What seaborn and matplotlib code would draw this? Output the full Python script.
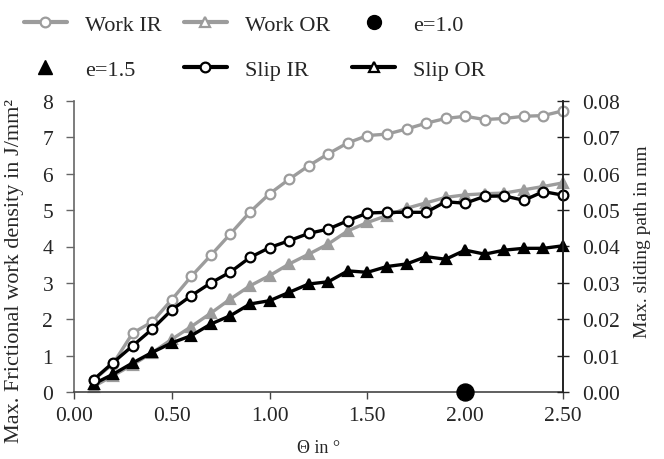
import matplotlib
matplotlib.use("Agg")
import matplotlib.pyplot as plt
import seaborn as sns
import pandas as pd
from matplotlib.lines import Line2D

# Tilt angle steps (degrees)
theta = [0.1, 0.2, 0.3, 0.4, 0.5, 0.6, 0.7, 0.8, 0.9, 1.0,
         1.1, 1.2, 1.3, 1.4, 1.5, 1.6, 1.7, 1.8, 1.9, 2.0,
         2.1, 2.2, 2.3, 2.4, 2.5]

# Max. frictional work density in J/mm²
work_ir = [0.33, 0.78, 1.62, 1.93, 2.54, 3.18, 3.76, 4.35, 4.95, 5.45,
           5.85, 6.22, 6.55, 6.85, 7.05, 7.09, 7.23, 7.39, 7.52, 7.58,
           7.49, 7.52, 7.58, 7.60, 7.73]
work_or = [0.15, 0.45, 0.75, 1.08, 1.45, 1.80, 2.17, 2.56, 2.92, 3.20,
           3.52, 3.79, 4.07, 4.43, 4.66, 4.85, 5.05, 5.20, 5.35, 5.42,
           5.45, 5.47, 5.56, 5.65, 5.75]

# Max. sliding path in mm
slip_ir = [0.0034, 0.0081, 0.0127, 0.0173, 0.0226, 0.0265, 0.0300, 0.0330, 0.0370, 0.0397,
           0.0416, 0.0436, 0.0448, 0.0471, 0.0492, 0.0494, 0.0494, 0.0494, 0.0523, 0.0519,
           0.0538, 0.0539, 0.0527, 0.0551, 0.0541]
slip_or = [0.0022, 0.0049, 0.0080, 0.0109, 0.0135, 0.0155, 0.0187, 0.0210, 0.0242, 0.0251,
           0.0274, 0.0297, 0.0303, 0.0333, 0.0329, 0.0345, 0.0352, 0.0372, 0.0365, 0.0390,
           0.0379, 0.0390, 0.0395, 0.0395, 0.0402]

# Eccentricity markers
e10_x = [2.0]
e10_y = [0.0]
e15_x = []
e15_y = []

xticks = [0.0, 0.5, 1.0, 1.5, 2.0, 2.5]
left_ticks = [0, 1, 2, 3, 4, 5, 6, 7, 8]
right_ticks = [0.00, 0.01, 0.02, 0.03, 0.04, 0.05, 0.06, 0.07, 0.08]

sns.set_theme(style="white")
plt.rcParams["font.family"] = ["Liberation Serif", "DejaVu Serif"]
plt.rcParams["mathtext.fontset"] = "stix"

GRAY = "#9c9c9c"
BLACK = "#000000"

fig = plt.figure(figsize=(6.64, 4.60), dpi=100)
ax = fig.add_axes([74 / 664, 1 - 393 / 460, (563 - 74) / 664, (393 - 102) / 460])
ax2 = ax.twinx()

df_work = pd.DataFrame({"theta": theta, "ir": work_ir, "or": work_or})
df_slip = pd.DataFrame({"theta": theta, "ir": slip_ir, "or": slip_or})

lw = 2.4
ms = 7
common = dict(linewidth=lw, markersize=ms, markeredgewidth=1.6, clip_on=False)

sns.lineplot(data=df_work, x="theta", y="ir", ax=ax, color=GRAY, marker="o",
             markerfacecolor="white", markeredgecolor=GRAY, **common)
sns.lineplot(data=df_work, x="theta", y="or", ax=ax, color=GRAY, marker="^",
             markerfacecolor=GRAY, markeredgecolor=GRAY, **common)
sns.lineplot(data=df_slip, x="theta", y="or", ax=ax2, color=BLACK, marker="^",
             markerfacecolor=BLACK, markeredgecolor=BLACK, **common)
sns.lineplot(data=df_slip, x="theta", y="ir", ax=ax2, color=BLACK, marker="o",
             markerfacecolor="white", markeredgecolor=BLACK, **common)
sns.scatterplot(x=e10_x, y=e10_y, ax=ax2, color=BLACK, s=150, marker="o",
                edgecolor=BLACK, zorder=5, clip_on=False)
if e15_x:
    sns.scatterplot(x=e15_x, y=e15_y, ax=ax2, color=BLACK, s=120, marker="^",
                    edgecolor=BLACK, zorder=5, clip_on=False)

ax.set_xlim(0, 2.5)
ax.set_ylim(0, 8)
ax2.set_ylim(0, 0.08)
ax.set_xticks(xticks)
ax.set_xticklabels([f"{v:.2f}" for v in xticks])
ax.set_yticks(left_ticks)
ax.set_yticklabels([str(v) for v in left_ticks])
ax2.set_yticks(right_ticks)
ax2.set_yticklabels([f"{v:.2f}" for v in right_ticks])

tick_fs = 15.5
ax.tick_params(axis="x", direction="out", length=5, width=1, color="#444444",
               labelsize=tick_fs, pad=5, bottom=True)
ax.tick_params(axis="y", direction="out", length=6, width=1, color="#666666",
               labelsize=tick_fs, pad=9, left=True)
ax2.tick_params(axis="y", direction="inout", length=8, width=1, color="#222222",
                labelsize=tick_fs, pad=10, right=True)

for a in (ax, ax2):
    a.spines["top"].set_visible(False)
    a.grid(False)
ax.spines["left"].set_color("#666666")
ax.spines["bottom"].set_color("#444444")
ax2.spines["left"].set_visible(False)
ax2.spines["bottom"].set_visible(False)
ax2.spines["right"].set_color("#222222")
for a in (ax, ax2):
    for s in a.spines.values():
        s.set_linewidth(1.2)

ax.set_xlabel("Θ in °", fontsize=13)
ax.xaxis.set_label_coords(0.5, -0.16)
ax.set_ylabel("Max. Frictional work density in J/mm²", fontsize=16)
ax.yaxis.set_label_coords(-0.103, 0.42)
ax2.set_ylabel("Max. sliding path in mm", fontsize=14)
ax2.yaxis.set_label_coords(1.145, 0.52)

# Legend laid out row by row: Work IR, Work OR, e=1.0 / e=1.5, Slip IR, Slip OR
h_work_ir = Line2D([], [], color=GRAY, marker="o", markerfacecolor="white",
                   markeredgecolor=GRAY, linewidth=lw + 0.6, markersize=ms, markeredgewidth=1.6)
h_work_or = Line2D([], [], color=GRAY, marker="^", markerfacecolor="white",
                   markeredgecolor=GRAY, linewidth=lw + 0.6, markersize=ms, markeredgewidth=1.6)
h_e10 = Line2D([], [], color=BLACK, marker="o", linestyle="none", markersize=10)
h_e15 = Line2D([], [], color=BLACK, marker="^", linestyle="none", markersize=10)
h_slip_ir = Line2D([], [], color=BLACK, marker="o", markerfacecolor="white",
                   markeredgecolor=BLACK, linewidth=lw + 0.6, markersize=ms, markeredgewidth=1.6)
h_slip_or = Line2D([], [], color=BLACK, marker="^", markerfacecolor="white",
                   markeredgecolor=BLACK, linewidth=lw + 0.6, markersize=ms, markeredgewidth=1.6)

handles = [h_work_ir, h_e15, h_work_or, h_slip_ir, h_e10, h_slip_or]
labels = ["Work IR", "e=1.5", "Work OR", "Slip IR", "e=1.0", "Slip OR"]
fig.legend(handles, labels, ncol=3, loc="upper left",
           bbox_to_anchor=(8 / 664, 1.0), frameon=False,
           fontsize=16, handlelength=1.95, handletextpad=0.8,
           columnspacing=1.0, labelspacing=1.1, borderpad=0.2)

fig.savefig("out.png", dpi=100)
